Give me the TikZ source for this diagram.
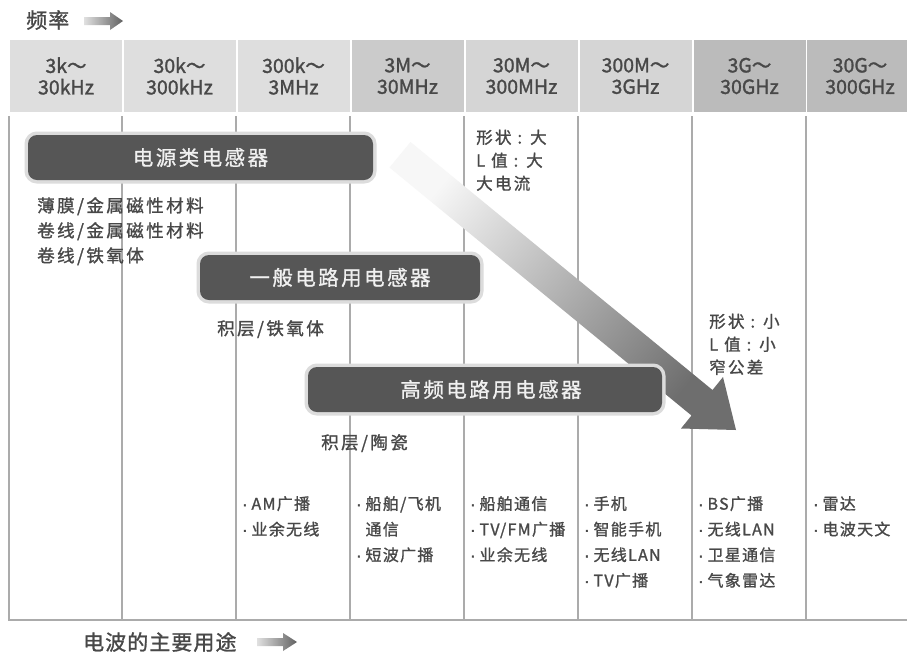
\documentclass[tikz,border=0pt]{standalone}
\usepackage{fontspec}
\setmainfont{Noto Sans CJK SC}
\newfontfamily\barfont[LetterSpace=12,FakeBold=1]{Noto Sans CJK SC}
\newfontfamily\txtfont[LetterSpace=14,FakeBold=1.2]{Noto Sans CJK SC}
\newfontfamily\usagefont[LetterSpace=8,FakeBold=1.2]{Noto Sans CJK SC}
\newfontfamily\ttlfont[LetterSpace=5,FakeBold=1.2]{Noto Sans CJK SC}
\newfontfamily\hdrfont[FakeBold=1.4]{Noto Sans CJK SC}
\newfontfamily\dotfont[FakeBold=2]{Liberation Sans}
\newcommand{\bdot}{{\dotfont ·}\kern4pt}
\definecolor{hdrA}{HTML}{DEDEDE}
\definecolor{hdrB}{HTML}{CBCBCB}
\definecolor{hdrC}{HTML}{D5D5D5}
\definecolor{hdrD}{HTML}{BBBBBB}
\definecolor{txtc}{HTML}{484848}
\definecolor{barc}{HTML}{565656}
\definecolor{haloc}{HTML}{DCDCDC}
\definecolor{gridc}{HTML}{ABABAB}
\begin{document}
\begin{tikzpicture}[x=1pt,y=-1pt,
  hdr/.style={rectangle, minimum width=112, minimum height=72, inner sep=0, align=center,
    text=txtc, font=\hdrfont\fontsize{19.5}{21.5}\selectfont},
  barbox/.style={rectangle, rounded corners=9, fill=barc, preaction={draw=haloc, line width=7},
    minimum height=45, inner sep=0, text=white!94!black, font=\barfont\fontsize{20.5}{24}\selectfont},
  body/.style={anchor=north west, inner sep=0, align=left, text=txtc, font=\txtfont\fontsize{17.5}{25}\selectfont},
  note/.style={anchor=north west, inner sep=0, align=left, text=txtc, font=\txtfont\fontsize{16.5}{23}\selectfont},
  use/.style={anchor=north west, inner sep=0, align=left, text=txtc, font=\usagefont\fontsize{16}{25.6}\selectfont},
  title/.style={inner sep=0, text=txtc, font=\ttlfont\fontsize{21}{24}\selectfont},
  gridl/.style={draw=gridc, line width=1.2}]
\useasboundingbox[fill=white] (0,0) rectangle (907,657);

% header cells
\node[hdr, fill=hdrA, minimum width=112] (h1) at (66,76) {3k～\\30kHz};
\node[hdr, fill=hdrA, minimum width=112] (h2) at (179.5,76) {30k～\\300kHz};
\node[hdr, fill=hdrA, minimum width=112] (h3) at (293.5,76) {300k～\\3MHz};
\node[hdr, fill=hdrB, minimum width=112] (h4) at (407.5,76) {3M～\\30MHz};
\node[hdr, fill=hdrC, minimum width=112] (h5) at (521.5,76) {30M～\\300MHz};
\node[hdr, fill=hdrC, minimum width=112] (h6) at (635.5,76) {300M～\\3GHz};
\node[hdr, fill=hdrD, minimum width=112] (h7) at (749.5,76) {3G～\\30GHz};
\node[hdr, fill=hdrD, minimum width=100] (h8) at (857,76) {};
\node[inner sep=0, align=center, text=txtc, font=\hdrfont\fontsize{19.5}{21.5}\selectfont] (h8t) at (860,76) {30G～\\300GHz};

% grid
\draw[gridl] (9,116) -- (9,620) -- (907,620);
\foreach \xx in {122,236,350,464,578,692,806} {\draw[gridl] (\xx,116) -- (\xx,620);}

% big trend arrow
\shade[top color=white!97!black, middle color=black!40, bottom color=black!57, shading angle=50]
  (410.5,142) -- (712.5,390) -- (723,377) -- (736,430) -- (681,428.5) -- (691.5,415.5) -- (389.5,167.5) -- cycle;

% bars
\node[barbox, minimum width=345] (b1) at (200.5,157.5) {电源类电感器};
\node[barbox, minimum width=280] (b2) at (340,277.5) {一般电路用电感器};
\node[barbox, minimum width=354] (b3) at (485,389.5) {\hspace*{12pt}高频电路用电感器};

% texts
\node[body] (t1) at (37,197) {薄膜/金属磁性材料\\卷线/金属磁性材料\\卷线/铁氧体};
\node[body] (t2) at (217,320) {积层/铁氧体};
\node[body] (t3) at (321,434) {积层/陶瓷};
\node[note] (t4) at (476,129.5) {形状 : 大\\L 值 : 大\\大电流};
\node[note] (t5) at (709,313.5) {形状 : 小\\L 值 : 小\\窄公差};

% uses
\node[use] (u3) at (242,496) {\bdot AM广播\\\bdot 业余无线};
\node[use] (u4) at (356,496) {\bdot 船舶/飞机\\\phantom{\bdot}通信\\\bdot 短波广播};
\node[use] (u5) at (470,496) {\bdot 船舶通信\\\bdot TV/FM广播\\\bdot 业余无线};
\node[use] (u6) at (584,496) {\bdot 手机\\\bdot 智能手机\\\bdot 无线LAN\\\bdot TV广播};
\node[use] (u7) at (698,496) {\bdot BS广播\\\bdot 无线LAN\\\bdot 卫星通信\\\bdot 气象雷达};
\node[use] (u8) at (813,496) {\bdot 雷达\\\bdot 电波天文};

% titles
\node[title, anchor=west] (freq) at (26,20) {频率};
\shade[left color=black!12, right color=black!62] (84,17) -- (110,17) -- (110,12) -- (123,21) -- (110,30) -- (110,25) -- (84,25) -- cycle;
\node[title, anchor=west] (usage) at (83,642) {电波的主要用途};
\shade[left color=black!12, right color=black!62] (257,638) -- (283,638) -- (283,633) -- (297,642) -- (283,651) -- (283,646) -- (257,646) -- cycle;
\end{tikzpicture}
\end{document}
